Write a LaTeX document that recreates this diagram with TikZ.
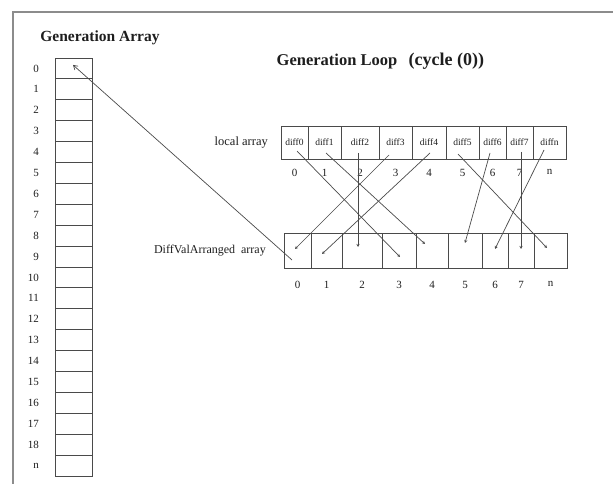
\documentclass[tikz,border=0pt]{standalone}
\usepackage{fontspec}
\setmainfont{Liberation Serif}
\usetikzlibrary{arrows.meta, positioning}
\definecolor{linegray}{HTML}{4A4A4A}
\definecolor{framegray}{HTML}{8C8C8C}
\definecolor{textdark}{HTML}{1E1E1E}

\begin{document}
\begin{tikzpicture}[
    x=1pt, y=-1pt,
    cell/.style={draw=linegray, line width=0.9pt, inner sep=0pt, outer sep=0pt},
    gencell/.style={cell, minimum width=37pt, minimum height=20.9pt},
    loccell/.style={cell, minimum height=33pt, font=\fontsize{9.5}{10}\selectfont, text=textdark},
    arrcell/.style={cell, minimum height=35pt},
    idx/.style={inner sep=0pt, font=\fontsize{11}{12}\selectfont, text=textdark},
    title/.style={inner sep=0pt, font=\bfseries, text=textdark},
    lbl/.style={inner sep=0pt, font=\fontsize{12}{14}\selectfont, text=textdark},
    link/.style={draw=linegray, line width=0.7pt, -{Stealth[length=3pt, width=3pt]}},
    genlink/.style={draw=linegray, line width=0.7pt, -{Straight Barb[length=4pt, width=5pt]}},
]
    \useasboundingbox (0,0) rectangle (613,484);
    % frame
    \draw[framegray, line width=1.5pt] (13,484) -- (13,12) -- (613,12);

    % Titles
    \node[title, font=\bfseries\fontsize{15.5}{18}\selectfont] (gentitle) at (100,38) {Generation Array};
    \node[title, font=\bfseries\fontsize{16.5}{19}\selectfont] (looptitle) at (337,62) {Generation Loop};
    \node[title, font=\bfseries\fontsize{18}{21}\selectfont, anchor=base west] (cycletitle)
        at ([xshift=11pt]looptitle.base east) {(cycle (0))};

    % Generation array
    \foreach \r [count=\i from 0] in {0,...,18,n} {
        \node[gencell] (gen\r) at (73.5,{58+20.9*(\i+0.5)}) {};
        \node[idx, anchor=east] (genidx\r) at (39,{58+20.9*(\i+0.5)}) {\r};
    }

    % local array
    \foreach \l/\rr/\t in {281/308/0, 308/341/1, 341/379/2, 379/412/3, 412/446/4,
                          446/479/5, 479/506/6, 506/533/7, 533/566/n} {
        \node[loccell, minimum width={(\rr-\l)*1pt}] (loc\t) at ({(\l+\rr)/2},142.5) {diff\t};
        \node[idx, below=10pt of loc\t] (locidx\t) {\t};
    }
    \node[lbl, font=\fontsize{12.5}{14}\selectfont, left=13pt of loc0] (loclabel) {local array};

    % DiffValArranged array
    \foreach \l/\rr/\t in {284/311/0, 311/342/1, 342/382/2, 382/416/3, 416/448/4,
                          448/482/5, 482/508/6, 508/534/7, 534/567/n} {
        \node[arrcell, minimum width={(\rr-\l)*1pt}] (arr\t) at ({(\l+\rr)/2},250.5) {};
        \node[idx, below=13pt of arr\t] (arridx\t) {\t};
    }
    \node[lbl, left=18pt of arr0] (arrlabel) {DiffValArranged\ \ array};

    % Rearrangement
    \draw[link] ([xshift=2.5pt, yshift=8pt]loc0.south) -- ([xshift=1pt, yshift=-6.5pt]arr3.center);
    \draw[link] ([xshift=1.5pt, yshift=6pt]loc1.south) -- ([xshift=-7pt, yshift=6.5pt]arr4.center);
    \draw[link] ([xshift=-2pt, yshift=6pt]loc2.south) -- ([xshift=-4pt, yshift=3.5pt]arr2.center);
    \draw[link] ([xshift=-6.5pt, yshift=4pt]loc3.south) -- ([xshift=-2.5pt, yshift=1.5pt]arr0.center);
    \draw[link] ([xshift=1pt, yshift=6pt]loc4.south) -- ([xshift=-4.5pt, yshift=-3.5pt]arr1.center);
    \draw[link] ([xshift=-4.5pt, yshift=5pt]loc5.south) -- ([xshift=-3.5pt, yshift=2.5pt]arrn.center);
    \draw[link] ([xshift=-2.5pt, yshift=6pt]loc6.south) -- ([yshift=7.5pt]arr5.center);
    \draw[link] ([xshift=1.5pt, yshift=7pt]loc7.south) -- ([xshift=0pt, yshift=1.5pt]arr7.center);
    \draw[link] ([xshift=-5.5pt, yshift=9pt]locn.south) -- ([yshift=1.5pt]arr6.center);

    % back to generation array
    \draw[genlink] ([xshift=-5.5pt, yshift=-9.5pt]arr0.center) -- ([xshift=-0.5pt, yshift=3.5pt]gen0.center);
\end{tikzpicture}
\end{document}
